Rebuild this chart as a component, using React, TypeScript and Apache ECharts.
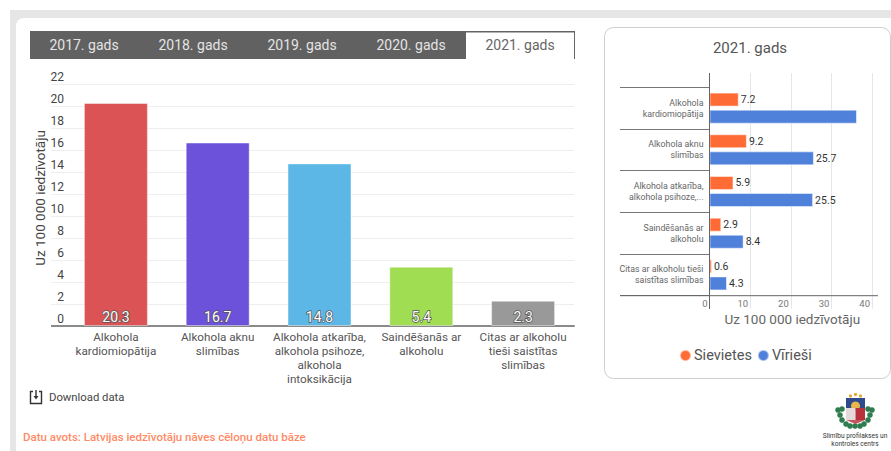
import React, { useEffect, useRef } from "react";
import * as echarts from "echarts";

const FONT = "Roboto";
const years = ["2017. gads", "2018. gads", "2019. gads", "2020. gads", "2021. gads"];
const mainCategories = [
  "Alkohola\nkardiomiopātija",
  "Alkohola aknu\nslimības",
  "Alkohola atkarība,\nalkohola psihoze,\nalkohola\nintoksikācija",
  "Saindēšanās ar\nalkoholu",
  "Citas ar alkoholu\ntieši saistītas\nslimības",
];
const mainValues = [20.3, 16.7, 14.8, 5.4, 2.3];
const mainColors = ["#DC5356", "#6C52DB", "#5DB7E6", "#A0DD52", "#999999"];
const sideCategories = [
  "Alkohola\nkardiomiopātija",
  "Alkohola aknu\nslimības",
  "Alkohola atkarība,\nalkohola psihoze,...",
  "Saindēšanās ar\nalkoholu",
  "Citas ar alkoholu tieši\nsaistītas slimības",
];
const women = [7.2, 9.2, 5.9, 2.9, 0.6];
const men = [36.3, 25.7, 25.5, 8.4, 4.3];
const hiddenMenLabels = [0];

const tabGraphics = () => {
  const out: any[] = [
    { type: "rect", shape: { x: 30, y: 31, width: 545, height: 28 }, style: { fill: "#616161" } },
    { type: "rect", shape: { x: 466, y: 32, width: 108, height: 28 }, style: { fill: "#fff" } },
    { type: "polyline", shape: { points: [[466, 32], [574.5, 32], [574.5, 59]] }, style: { fill: "none", stroke: "#666", lineWidth: 1 } },
  ];
  years.forEach((y, i) => {
    out.push({
      type: "text",
      x: 84 + i * 109,
      y: 45,
      style: { text: y, font: `14px ${FONT}`, fill: i === 4 ? "#666" : "#e4e4e4", align: "center", verticalAlign: "middle" },
    });
  });
  return out;
};

const logoGraphics = () => {
  const leaf = "#2E7D4F";
  const out: any[] = [];
  [[-17, 3], [-15, 8], [-13, 13], [-9, 17], [-5, 19], [17, 3], [15, 8], [13, 13], [9, 17], [5, 19], [-13, 2], [13, 2], [0, 19]].forEach(([dx, dy]) => {
    out.push({ type: "circle", shape: { cx: 855 + dx, cy: 407 + dy, r: 2.8 }, style: { fill: leaf } });
  });
  out.push(
    { type: "rect", shape: { x: 846, y: 398, width: 19, height: 10 }, style: { fill: "#2F4A8C" } },
    { type: "circle", shape: { cx: 855.5, cy: 406, r: 4.5 }, style: { fill: "#E8B84A" } },
    { type: "rect", shape: { x: 846, y: 408, width: 9.5, height: 12 }, style: { fill: "#E4DADA" } },
    { type: "rect", shape: { x: 855.5, y: 408, width: 9.5, height: 12 }, style: { fill: "#B8323C" } },
    { type: "polygon", shape: { points: [[846, 420], [865, 420], [855.5, 424]] }, style: { fill: "#C4555C" } },
    { type: "circle", shape: { cx: 850.5, cy: 396, r: 1.6 }, style: { fill: "#E0A92E" } },
    { type: "circle", shape: { cx: 855.5, cy: 394.5, r: 1.6 }, style: { fill: "#E0A92E" } },
    { type: "circle", shape: { cx: 860.5, cy: 396, r: 1.6 }, style: { fill: "#E0A92E" } }
  );
  return out;
};

const pageGraphics: any[] = [
  { type: "rect", z: -10, shape: { x: 10, y: 10, width: 881, height: 441 }, style: { fill: "#E6E6E6" } },
  { type: "rect", z: -9, shape: { x: 16, y: 18, width: 900, height: 500, r: 8 }, style: { fill: "#fff" } },
  { type: "rect", z: -8, shape: { x: 604.5, y: 27.5, width: 286, height: 351, r: 9 }, style: { fill: "#fff", stroke: "#CFCFCF", lineWidth: 1 } },
  ...tabGraphics(),
  { type: "text", x: 40, y: 198, rotation: Math.PI / 2, style: { text: "Uz 100 000 iedzīvotāju", font: `13.5px ${FONT}`, fill: "#444", align: "center", verticalAlign: "middle" } },
  // main chart: baseline stub under the inside tick labels
  { type: "line", z: 20, shape: { x1: 51, y1: 326, x2: 66, y2: 326 }, style: { stroke: "#8a8a8a", lineWidth: 2 } },
  // side chart: axis lines
  { type: "line", z: 20, shape: { x1: 709.5, y1: 73, x2: 709.5, y2: 309 }, style: { stroke: "#666", lineWidth: 1 } },
  { type: "line", z: 20, shape: { x1: 620, y1: 295.7, x2: 878, y2: 295.7 }, style: { stroke: "#666", lineWidth: 1 } },
  { type: "text", x: 750, y: 48, style: { text: "2021. gads", font: `15px ${FONT}`, fill: "#555", align: "center", verticalAlign: "middle" } },
  // download icon
  { type: "polyline", shape: { points: [[33, 391.5], [30.5, 391.5], [30.5, 403.5], [41.5, 403.5], [41.5, 391.5], [39, 391.5]] }, style: { fill: "none", stroke: "#333", lineWidth: 1.4 } },
  { type: "line", shape: { x1: 36, y1: 390, x2: 36, y2: 397 }, style: { stroke: "#333", lineWidth: 1.4 } },
  { type: "polygon", shape: { points: [[33.5, 396], [38.5, 396], [36, 399.5]] }, style: { fill: "#333" } },
  { type: "text", x: 49, y: 397, style: { text: "Download data", font: `11.3px ${FONT}`, fill: "#444", verticalAlign: "middle" } },
  { type: "text", x: 23, y: 437, style: { text: "Datu avots: Latvijas iedzīvotāju nāves cēloņu datu bāze", font: `500 11.5px ${FONT}`, fill: "#FF8A65", verticalAlign: "middle" } },
  ...logoGraphics(),
  { type: "text", x: 855, y: 436, style: { text: "Slimību profilakses un", font: `6.6px ${FONT}`, fill: "#333", align: "center", verticalAlign: "middle" } },
  { type: "text", x: 855, y: 444, style: { text: "kontroles centrs", font: `6.6px ${FONT}`, fill: "#333", align: "center", verticalAlign: "middle" } },
];

export default function App() {
  const ref = useRef<HTMLDivElement>(null);
  useEffect(() => {
    document.body.style.margin = "0";
    const chart = echarts.init(ref.current!, null, { renderer: "svg" });
    chart.setOption({
      animation: false,
      backgroundColor: "#fff",
      textStyle: { fontFamily: FONT },
      graphic: pageGraphics,
      legend: {
        data: ["Sievietes", "Vīrieši"],
        left: 674,
        top: 343,
        icon: "circle",
        itemWidth: 11,
        itemHeight: 11,
        itemGap: 5,
        textStyle: { fontSize: 14.5, color: "#555", fontFamily: FONT, padding: [0, 0, 0, -2] },
      },
      grid: [
        { left: 65, right: 317, top: 84.3, bottom: 125 },
        { left: 709.5, right: 19, top: 87.3, bottom: 155.3 },
      ],
      xAxis: [
        {
          type: "category",
          gridIndex: 0,
          data: mainCategories,
          axisLine: { lineStyle: { color: "#8a8a8a", width: 2 } },
          axisTick: { show: false },
          axisLabel: { interval: 0, fontSize: 11.7, lineHeight: 14, color: "#555", margin: 4, fontFamily: FONT },
        },
        {
          type: "value",
          gridIndex: 1,
          min: 0,
          max: 40,
          interval: 10,
          position: "bottom",
          name: "Uz 100 000 iedzīvotāju",
          nameLocation: "middle",
          nameGap: 16,
          nameTextStyle: { fontSize: 13.5, color: "#666", fontFamily: FONT, padding: [0, 0, 0, 3] },
          axisLine: { show: false },
          axisTick: { show: true, length: 13, lineStyle: { color: "#e6e6e6" } },
          splitLine: { show: true, lineStyle: { color: "#e6e6e6" } },
          axisLabel: { fontSize: 9.5, color: "#777", align: "right", padding: [0, 2, 0, 0], margin: 3, fontFamily: FONT },
        },
        {
          type: "value",
          gridIndex: 1,
          min: 0,
          max: 40,
          interval: 10,
          position: "top",
          axisLine: { show: false },
          axisTick: { show: true, length: 14, lineStyle: { color: "#e6e6e6" } },
          splitLine: { show: false },
          axisLabel: { show: false },
        },
      ],
      yAxis: [
        {
          type: "value",
          gridIndex: 0,
          min: 0,
          max: 22,
          interval: 2,
          axisLine: { show: false },
          axisTick: { show: true, length: 14, lineStyle: { color: "#eeeeee" } },
          splitLine: { show: true, lineStyle: { color: "#eeeeee" } },
          axisLabel: { fontSize: 12, color: "#444", margin: 1, verticalAlign: "bottom", padding: [0, 0, 1, 0], fontFamily: FONT },
        },
        {
          type: "category",
          gridIndex: 1,
          data: sideCategories,
          inverse: true,
          axisLine: { show: false },
          axisTick: { show: true, length: 89.5, lineStyle: { color: "#777" } },
          axisLabel: { interval: 0, fontSize: 8.8, lineHeight: 11, color: "#666", margin: 6, align: "right", fontFamily: FONT },
        },
      ],
      series: [
        {
          type: "bar",
          xAxisIndex: 0,
          yAxisIndex: 0,
          barWidth: 64,
          data: mainValues.map((v, i) => ({
            value: v,
            itemStyle: { color: mainColors[i], borderColor: "rgba(255,255,255,0.45)", borderWidth: 1 },
          })),
          label: {
            show: true,
            position: "insideBottom",
            distance: 2,
            fontSize: 14,
            color: "#fff",
            textBorderColor: "#555",
            textBorderWidth: 1.5,
            fontFamily: FONT,
          },
        },
        {
          name: "Sievietes",
          type: "bar",
          xAxisIndex: 1,
          yAxisIndex: 1,
          barWidth: 14,
          barGap: "22%",
          data: women,
          itemStyle: { color: "#FF6B35", borderColor: "rgba(255,255,255,0.5)", borderWidth: 1 },
          label: { show: true, position: "right", distance: 2, fontSize: 10.5, color: "#333", fontFamily: FONT },
        },
        {
          name: "Vīrieši",
          type: "bar",
          xAxisIndex: 1,
          yAxisIndex: 1,
          barWidth: 14,
          data: men.map((v, i) => ({ value: v, label: { show: !hiddenMenLabels.includes(i) } })),
          itemStyle: { color: "#4F81DB", borderColor: "rgba(255,255,255,0.5)", borderWidth: 1 },
          label: { show: true, position: "right", distance: 2, fontSize: 10.5, color: "#333", fontFamily: FONT },
        },
      ],
    });
    return () => chart.dispose();
  }, []);
  return <div ref={ref} style={{ width: 891, height: 451 }} />;
}
